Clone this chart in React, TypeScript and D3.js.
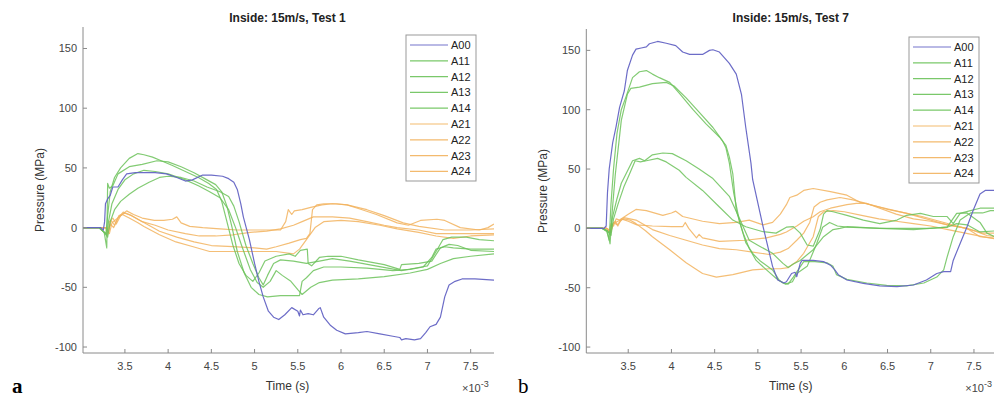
import React from "react";
import * as d3 from "d3";

type Pt = [number, number];

// ---------- Tick labels / categories ----------
const xTicks = [3.5, 4, 4.5, 5, 5.5, 6, 6.5, 7, 7.5];
const yTicks = [-100, -50, 0, 50, 100, 150];
const seriesNames = ["A00", "A11", "A12", "A13", "A14", "A21", "A22", "A23", "A24"];
const seriesGroup = ["blue", "green", "green", "green", "green", "orange", "orange", "orange", "orange"];
const titles = ["Inside: 15m/s, Test 1", "Inside: 15m/s, Test 7"];

// ---------- Panel a (Test 1): [time (ms), pressure (MPa)] ----------
const a_A00: Pt[] = [[3.0,0],[3.22,0],[3.25,-2],[3.265,5],[3.275,20],[3.30,24],[3.33,27],[3.36,34],[3.42,34],[3.47,40],[3.52,45],[3.62,46],[3.71,46],[3.85,46],[3.98,45],[4.1,42],[4.2,39],[4.28,40],[4.40,44],[4.5,44],[4.63,43],[4.70,41],[4.76,38],[4.80,32],[4.84,20],[4.87,9],[4.94,-10],[5.0,-30],[5.05,-45],[5.10,-58],[5.16,-70],[5.22,-75],[5.28,-77],[5.35,-73],[5.43,-67],[5.5,-70],[5.52,-74],[5.53,-69],[5.56,-73],[5.62,-72],[5.68,-73],[5.74,-68],[5.76,-67],[5.80,-75],[5.88,-82],[5.95,-86],[6.05,-89],[6.2,-88],[6.3,-87],[6.45,-89],[6.6,-91],[6.68,-92],[6.70,-94],[6.75,-93],[6.85,-94],[6.92,-93],[6.98,-88],[7.03,-83],[7.1,-81],[7.15,-75],[7.2,-58],[7.25,-48],[7.32,-45],[7.4,-43],[7.55,-43],[7.77,-44]];
const a_A11: Pt[] = [[3.0,0],[3.2,0],[3.25,-3],[3.28,-5],[3.30,10],[3.33,30],[3.38,42],[3.45,50],[3.55,58],[3.65,62],[3.72,61],[3.82,59],[3.92,56],[4.05,52],[4.2,47],[4.35,42],[4.47,37],[4.56,32],[4.62,22],[4.68,5],[4.75,-15],[4.82,-30],[4.90,-40],[4.98,-45],[5.05,-38],[5.12,-28],[5.25,-24],[5.4,-22],[5.47,-24],[5.53,-19],[5.61,-18],[5.62,-30],[5.66,-32],[5.75,-25],[5.85,-24],[6.0,-24],[6.2,-27],[6.5,-31],[6.68,-35],[6.7,-31],[6.9,-30],[7.05,-28],[7.15,-17],[7.25,-14],[7.35,-15],[7.5,-19],[7.77,-20]];
const a_A12: Pt[] = [[3.0,0],[3.2,0],[3.26,-4],[3.29,-17],[3.30,37],[3.32,33],[3.36,35],[3.42,45],[3.55,51],[3.7,53],[3.87,56],[4.0,55],[4.15,51],[4.3,46],[4.45,40],[4.55,36],[4.62,30],[4.68,18],[4.74,0],[4.80,-20],[4.88,-38],[4.96,-50],[5.05,-56],[5.15,-58],[5.3,-57],[5.45,-57],[5.52,-57],[5.55,-45],[5.6,-42],[5.68,-36],[5.8,-33],[6.0,-33],[6.3,-34],[6.6,-36],[6.8,-35],[6.95,-33],[7.05,-25],[7.1,-18],[7.2,-16],[7.3,-17],[7.5,-18],[7.77,-18]];
const a_A13: Pt[] = [[3.0,0],[3.2,0],[3.26,-4],[3.29,-6],[3.31,5],[3.35,20],[3.42,32],[3.5,40],[3.6,45],[3.72,48],[3.85,47],[4.0,45],[4.2,40],[4.35,35],[4.48,30],[4.6,25],[4.70,15],[4.78,0],[4.85,-15],[4.95,-35],[5.03,-46],[5.1,-50],[5.18,-45],[5.25,-36],[5.32,-40],[5.42,-45],[5.5,-52],[5.55,-56],[5.65,-50],[5.75,-46],[5.9,-44],[6.2,-43],[6.5,-41],[6.8,-38],[7.0,-35],[7.15,-30],[7.3,-26],[7.5,-24],[7.77,-22]];
const a_A14: Pt[] = [[3.0,0],[3.2,0],[3.26,-4],[3.3,-8],[3.33,5],[3.38,15],[3.45,22],[3.55,28],[3.65,33],[3.78,38],[3.9,42],[4.0,43],[4.15,42],[4.3,39],[4.45,34],[4.6,30],[4.7,26],[4.76,18],[4.82,5],[4.9,-15],[4.98,-30],[5.05,-42],[5.1,-48],[5.15,-40],[5.22,-30],[5.3,-27],[5.45,-28],[5.6,-30],[5.75,-28],[5.9,-26],[6.1,-28],[6.4,-32],[6.7,-36],[6.85,-34],[7.0,-32],[7.1,-20],[7.18,-10],[7.28,-8],[7.45,-8],[7.6,-10],[7.77,-11]];
const a_A21: Pt[] = [[3.0,0],[3.28,0],[3.30,-6],[3.32,5],[3.36,8],[3.40,3],[3.45,10],[3.52,14],[3.6,11],[3.7,8],[3.84,6],[3.95,6],[4.05,7],[4.10,9],[4.15,4],[4.25,1],[4.4,0],[4.6,-1],[4.8,-2],[5.0,-2],[5.2,-2],[5.3,-2],[5.36,5],[5.39,15],[5.43,11],[5.46,14],[5.55,15],[5.65,17],[5.78,19],[5.9,20],[6.07,19],[6.3,15],[6.5,10],[6.72,4],[6.9,1],[7.2,-2],[7.5,-2],[7.77,-1]];
const a_A22: Pt[] = [[3.0,0],[3.28,0],[3.31,-3],[3.34,6],[3.38,2],[3.43,10],[3.5,12],[3.58,10],[3.7,5],[3.85,2],[4.0,-2],[4.2,-5],[4.36,-7],[4.55,-7],[4.75,-6],[4.95,-4],[5.14,-3],[5.3,-1],[5.45,2],[5.55,5],[5.68,9],[5.9,9],[6.1,8],[6.3,5],[6.5,2],[6.65,0],[6.9,-2],[7.1,-5],[7.4,-5],[7.6,-5],[7.77,-5]];
const a_A23: Pt[] = [[3.0,0],[3.28,0],[3.31,-4],[3.33,3],[3.37,0],[3.42,8],[3.48,13],[3.55,11],[3.65,7],[3.75,3],[3.9,-3],[4.1,-8],[4.3,-12],[4.5,-15],[4.75,-16],[5.0,-17],[5.14,-18],[5.25,-16],[5.4,-13],[5.53,-10],[5.6,-9],[5.64,-5],[5.67,15],[5.72,19],[5.8,20],[5.95,20],[6.07,19],[6.2,16],[6.41,11],[6.65,4],[6.78,2],[6.92,6],[7.11,7],[7.2,6],[7.38,0],[7.6,-2],[7.7,0],[7.77,3]];
const a_A24: Pt[] = [[3.0,0],[3.28,0],[3.32,-5],[3.35,4],[3.4,7],[3.47,11],[3.55,8],[3.65,4],[3.72,1],[3.9,-6],[4.09,-12],[4.29,-16],[4.48,-20],[4.75,-20],[5.0,-20],[5.25,-20],[5.45,-22],[5.52,-18],[5.6,-10],[5.7,0],[5.8,5],[6.0,6],[6.2,5],[6.45,2],[6.65,-1],[6.9,-4],[7.1,-7],[7.3,-9],[7.5,-7],[7.77,-6]];

// ---------- Panel b (Test 7) ----------
const b_A00: Pt[] = [[3.0,0],[3.22,0],[3.245,2],[3.26,30],[3.28,50],[3.32,72],[3.36,86],[3.40,102],[3.455,116],[3.49,133],[3.55,146],[3.59,151],[3.65,152],[3.71,153],[3.745,155.6],[3.84,157.5],[3.94,156],[4.05,154],[4.13,148.6],[4.21,146.6],[4.36,146.6],[4.44,150],[4.48,150.5],[4.555,148.6],[4.67,139],[4.75,130],[4.81,113],[4.86,85],[4.92,55],[4.94,41],[5.06,1.4],[5.17,-32],[5.23,-43.5],[5.30,-46],[5.33,-45],[5.39,-38],[5.43,-37],[5.45,-40.7],[5.49,-29.5],[5.51,-27],[5.64,-27],[5.76,-28],[5.84,-31],[5.89,-35],[5.93,-39],[6.03,-43.5],[6.22,-46.3],[6.41,-48.5],[6.61,-49],[6.80,-47.7],[6.95,-43.5],[7.07,-38],[7.15,-36.5],[7.23,-36.5],[7.26,-27],[7.34,-12.7],[7.42,1.4],[7.49,15],[7.57,29],[7.63,32],[7.77,32]];
const b_A11: Pt[] = [[3.0,0],[3.2,0],[3.25,-2],[3.28,-10],[3.30,20],[3.33,50],[3.37,80],[3.42,100],[3.475,111],[3.55,127],[3.63,132],[3.71,133],[3.78,130],[3.86,127],[3.98,123],[4.09,114],[4.25,100],[4.40,88],[4.555,77],[4.63,70],[4.67,60],[4.71,46],[4.75,15],[4.83,-4],[4.90,-17],[4.98,-27],[5.10,-35],[5.21,-42],[5.29,-46],[5.35,-47],[5.41,-41],[5.53,-28],[5.66,-28],[5.80,-29],[5.87,-32],[5.91,-39],[6.03,-43],[6.26,-46],[6.49,-48],[6.72,-48.5],[6.92,-46],[7.07,-41],[7.15,-35],[7.19,-24],[7.26,-7],[7.34,7],[7.46,13],[7.6,13],[7.69,15],[7.77,15]];
const b_A12: Pt[] = [[3.0,0],[3.2,0],[3.26,-3],[3.29,-13],[3.31,10],[3.35,45],[3.42,91],[3.49,113],[3.53,118],[3.63,119],[3.78,122],[3.94,123],[4.03,120],[4.17,110],[4.32,98],[4.48,85],[4.59,74],[4.63,68],[4.67,55],[4.72,30],[4.79,5],[4.86,-12],[4.95,-22],[5.02,-27],[5.17,-35],[5.25,-44],[5.32,-47],[5.4,-45],[5.45,-38],[5.57,-32],[5.68,-13],[5.75,1],[5.83,5],[5.92,2],[6.03,1],[6.41,0],[6.8,-1],[6.99,0],[7.19,1],[7.30,4],[7.42,3],[7.57,-3],[7.77,-2]];
const b_A13: Pt[] = [[3.0,0],[3.2,0],[3.26,-2],[3.29,-5],[3.32,10],[3.37,25],[3.42,38],[3.475,46],[3.55,57],[3.63,59],[3.69,57],[3.78,62],[3.90,63.5],[4.01,63],[4.17,57],[4.32,50],[4.48,42],[4.555,36],[4.67,27],[4.79,8],[4.90,-10],[5.02,-15],[5.17,-21],[5.29,-29.5],[5.35,-33],[5.41,-30],[5.49,-27],[5.64,-18],[5.76,-7],[5.87,-1],[5.95,0],[6.03,1.4],[6.41,0],[6.99,0],[7.19,1],[7.30,12.6],[7.42,13],[7.57,5],[7.65,-4],[7.77,-8]];
const b_A14: Pt[] = [[3.0,0],[3.2,0],[3.26,-2],[3.3,-6],[3.33,8],[3.38,20],[3.45,35],[3.51,45],[3.58,57],[3.64,56],[3.71,57],[3.84,59],[3.94,56],[4.09,49],[4.17,43],[4.36,32],[4.555,18],[4.71,7],[4.86,1.4],[5.06,-2.8],[5.21,-4],[5.33,1],[5.41,1.5],[5.49,-4],[5.57,-14],[5.64,-15],[5.72,-1],[5.76,12],[5.80,15],[5.87,14],[6.03,11],[6.22,7],[6.41,4],[6.61,7],[6.72,11],[6.88,12.6],[7.03,10],[7.19,10],[7.26,4],[7.34,12.6],[7.46,15],[7.57,17],[7.77,17]];
const b_A21: Pt[] = [[3.0,0],[3.25,0],[3.28,-3],[3.30,4],[3.33,2],[3.36,8],[3.40,7],[3.5,12],[3.59,16],[3.71,15],[3.90,11],[4.0,13],[4.05,14.5],[4.13,10],[4.36,6],[4.555,4],[4.75,5],[4.90,7],[5.06,3],[5.17,5],[5.26,12],[5.33,20],[5.37,26],[5.45,28],[5.53,32],[5.64,33.6],[5.84,31],[6.03,28],[6.18,22],[6.41,18],[6.72,12.6],[6.95,8],[7.19,3],[7.42,0],[7.57,-7],[7.77,-8.5]];
const b_A22: Pt[] = [[3.0,0],[3.25,0],[3.29,-4],[3.31,3],[3.35,6],[3.38,2],[3.42,8],[3.5,6],[3.6,3],[3.78,2],[4.0,1.5],[4.13,1.4],[4.16,5],[4.2,0],[4.29,-8],[4.32,-5],[4.36,-8],[4.555,-11],[4.86,-10],[5.10,-8],[5.26,-5],[5.33,-3],[5.45,2],[5.53,6],[5.64,9.8],[5.72,14],[5.84,17],[6.03,20],[6.14,21],[6.26,21],[6.41,17],[6.6,12],[6.8,8],[7.0,6],[7.2,3],[7.42,0],[7.6,-4],[7.77,-4]];
const b_A23: Pt[] = [[3.0,0],[3.25,0],[3.3,-3],[3.33,5],[3.37,3],[3.45,9],[3.59,7],[3.78,-1],[3.98,-6],[4.17,-10],[4.36,-14],[4.555,-17],[4.75,-18],[4.94,-20],[5.13,-22],[5.26,-20],[5.35,-17],[5.45,-10],[5.53,-4],[5.6,5],[5.65,18],[5.72,22],[5.8,24],[5.95,26],[6.1,24],[6.3,20],[6.5,16],[6.7,13],[6.9,10],[7.1,6],[7.3,2],[7.5,-2],[7.65,-6],[7.77,-7]];
const b_A24: Pt[] = [[3.0,0],[3.25,0],[3.3,-2],[3.33,4],[3.38,6],[3.45,8],[3.52,7],[3.59,4],[3.7,-2],[3.78,-7],[3.98,-18],[4.17,-29],[4.36,-38],[4.52,-41],[4.71,-39],[4.94,-35],[5.13,-34],[5.26,-34],[5.35,-33],[5.45,-28],[5.53,-21],[5.64,-7],[5.70,10],[5.76,14],[5.87,15],[6.0,14],[6.2,11],[6.4,8],[6.6,6],[6.8,4],[7.0,2],[7.2,-1],[7.4,-4],[7.6,-7],[7.77,-9]];

const panelAData = [a_A00, a_A11, a_A12, a_A13, a_A14, a_A21, a_A22, a_A23, a_A24];
const panelBData = [b_A00, b_A11, b_A12, b_A13, b_A14, b_A21, b_A22, b_A23, b_A24];

const COLORS: Record<string, string> = { blue: "#6464c4", green: "#6cc25a", orange: "#f2b35e" };
const FONT = "'Liberation Sans', Arial, Helvetica, sans-serif";

interface PanelProps {
  id: string;
  data: Pt[][];
  title: string;
  left: number;
  top: number;
  bottom: number;
  legendX: number;
  legendY: number;
  ylabelX: number;
  letter: string;
  letterX: number;
  letterBold: boolean;
}

function Panel(p: PanelProps) {
  const width = 411;
  const x = d3.scaleLinear().domain([3.015, 7.77]).range([p.left, p.left + width]);
  const y = d3.scaleLinear().domain([-105, 168]).range([p.bottom, p.top]);
  const line = d3.line<Pt>().x((d) => x(d[0])).y((d) => y(d[1])).curve(d3.curveLinear);
  const cx = p.left + width / 2 - 1;
  const order = [5, 6, 7, 8, 1, 2, 3, 4, 0];
  const rowH = 15.8;
  return (
    <g>
      <defs>
        <clipPath id={"clip" + p.id}>
          <rect x={p.left} y={p.top} width={width} height={p.bottom - p.top} />
        </clipPath>
      </defs>
      <text x={cx} y={22} textAnchor="middle" fontFamily={FONT} fontWeight="bold" fontSize={12} fill="#222">
        {p.title}
      </text>
      <g clipPath={`url(#clip${p.id})`}>
        {order.map((i) => (
          <path key={i} d={line(p.data[i]) || ""} fill="none" stroke={COLORS[seriesGroup[i]]}
            strokeWidth={1.2} strokeOpacity={seriesGroup[i] === "blue" ? 0.95 : 0.85} strokeLinejoin="round" />
        ))}
      </g>
      {/* axes */}
      <line x1={p.left} x2={p.left} y1={p.top} y2={p.bottom} stroke="#8a8a8a" strokeWidth={1} />
      <line x1={p.left} x2={p.left + width} y1={p.bottom} y2={p.bottom} stroke="#8a8a8a" strokeWidth={1} />
      {yTicks.map((t) => (
        <g key={"y" + t}>
          <line x1={p.left} x2={p.left + 4} y1={y(t)} y2={y(t)} stroke="#8a8a8a" />
          <text x={p.left - 6} y={y(t) + 4} textAnchor="end" fontFamily={FONT} fontSize={11} fill="#444">{t}</text>
        </g>
      ))}
      {xTicks.map((t) => (
        <g key={"x" + t}>
          <line x1={x(t)} x2={x(t)} y1={p.bottom} y2={p.bottom - 4} stroke="#8a8a8a" />
          <text x={x(t)} y={p.bottom + 17} textAnchor="middle" fontFamily={FONT} fontSize={11} fill="#444">{t}</text>
        </g>
      ))}
      <text x={cx} y={390} textAnchor="middle" fontFamily={FONT} fontSize={12} fill="#333">Time (s)</text>
      <text x={p.left + width - 32} y={392} fontFamily={FONT} fontSize={11} fill="#444">
        ×10<tspan dy={-5} fontSize={9}>-3</tspan>
      </text>
      <text transform={`translate(${p.ylabelX},${(p.top + p.bottom) / 2}) rotate(-90)`} textAnchor="middle"
        fontFamily={FONT} fontSize={12} fill="#333">Pressure (MPa)</text>
      {/* legend */}
      <rect x={p.legendX} y={p.legendY} width={70} height={146} fill="#fff" stroke="#999" strokeWidth={1} />
      {seriesNames.map((n, i) => (
        <g key={n}>
          <line x1={p.legendX + 4} x2={p.legendX + 42} y1={p.legendY + 10 + i * rowH} y2={p.legendY + 10 + i * rowH}
            stroke={COLORS[seriesGroup[i]]} strokeWidth={1.2} strokeOpacity={0.9} />
          <text x={p.legendX + 45} y={p.legendY + 14 + i * rowH} fontFamily={FONT} fontSize={11} fill="#222">{n}</text>
        </g>
      ))}
      <text x={p.letterX} y={393} fontFamily="'Liberation Serif', 'Times New Roman', serif" fontSize={21}
        fontWeight={p.letterBold ? "bold" : "normal"} fill="#000">{p.letter}</text>
    </g>
  );
}

export default function App() {
  return (
    <svg width={994} height={400} style={{ position: "absolute", left: 0, top: 0, background: "#fff" }}>
      <rect x={0} y={0} width={994} height={400} fill="#fff" />
      <Panel id="a" data={panelAData} title={titles[0]} left={83} top={27} bottom={353}
        legendX={406} legendY={35} ylabelX={44} letter="a" letterX={12} letterBold={true} />
      <Panel id="b" data={panelBData} title={titles[1]} left={586.3} top={29} bottom={353}
        legendX={909} legendY={37} ylabelX={547} letter="b" letterX={518} letterBold={false} />
    </svg>
  );
}
